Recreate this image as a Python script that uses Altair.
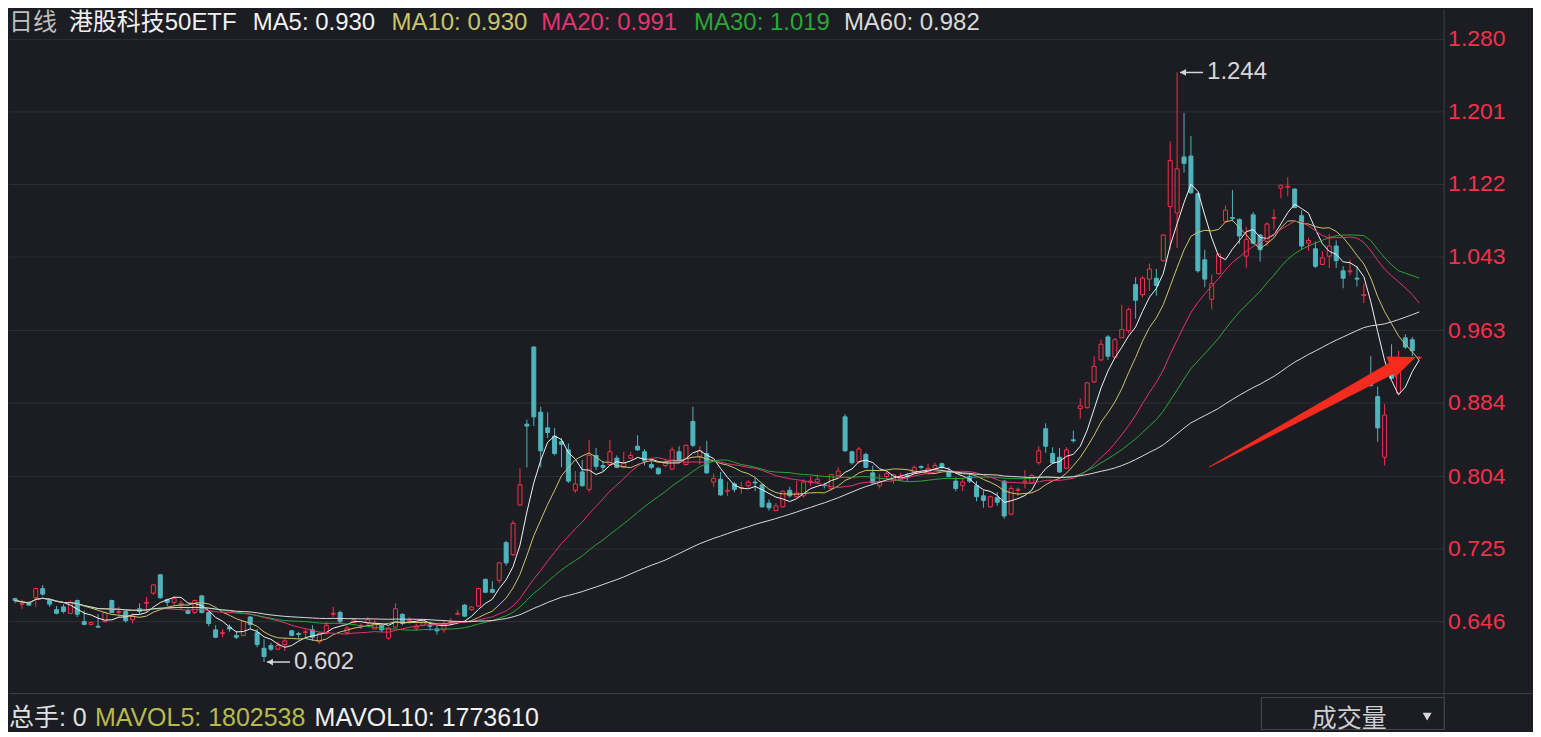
import altair as alt
import pandas as pd

# ---------------- data ----------------
opens = [
    0.671, 0.665, 0.667, 0.672, 0.682, 0.669, 0.659, 0.662, 0.655, 0.669,
    0.646, 0.643, 0.641, 0.646, 0.669, 0.656, 0.657, 0.648, 0.660, 0.666,
    0.677, 0.697, 0.670, 0.667, 0.664, 0.658, 0.656, 0.674, 0.656, 0.637,
    0.633, 0.640, 0.631, 0.631, 0.651, 0.634, 0.617, 0.620, 0.616, 0.621,
    0.636, 0.633, 0.634, 0.637, 0.624, 0.633, 0.654, 0.656, 0.634, 0.645,
    0.641, 0.645, 0.638, 0.642, 0.628, 0.640, 0.654, 0.647, 0.639, 0.642,
    0.642, 0.638, 0.637, 0.645, 0.654, 0.664, 0.659, 0.663, 0.692, 0.681,
    0.691, 0.732, 0.719, 0.773, 0.861, 0.945, 0.874, 0.857, 0.848, 0.842,
    0.833, 0.789, 0.809, 0.790, 0.827, 0.816, 0.817, 0.824, 0.814, 0.824,
    0.837, 0.831, 0.817, 0.813, 0.816, 0.812, 0.831, 0.817, 0.864, 0.826,
    0.829, 0.798, 0.801, 0.788, 0.796, 0.791, 0.794, 0.798, 0.795, 0.775,
    0.767, 0.771, 0.789, 0.782, 0.783, 0.798, 0.798, 0.795, 0.791, 0.805,
    0.869, 0.831, 0.820, 0.828, 0.808, 0.794, 0.804, 0.800, 0.800, 0.805,
    0.808, 0.815, 0.808, 0.813, 0.818, 0.809, 0.799, 0.794, 0.804, 0.794,
    0.783, 0.771, 0.781, 0.799, 0.763, 0.789, 0.798, 0.797, 0.819, 0.856,
    0.829, 0.825, 0.813, 0.844, 0.878, 0.879, 0.907, 0.931, 0.956, 0.934,
    0.955, 0.963, 1.013, 1.002, 1.019, 1.020, 1.039, 1.098, 1.091, 1.152,
    1.153, 1.112, 1.040, 0.997, 1.025, 1.082, 1.086, 1.084, 1.044, 1.089,
    1.067, 1.060, 1.085, 1.118, 1.119, 1.117, 1.088, 1.058, 1.052, 1.035,
    1.044, 1.055, 1.028, 1.027, 1.020, 1.001, 0.904, 0.891, 0.825, 0.919,
    0.895, 0.955, 0.953, 0.933,
]
highs = [
    0.672, 0.670, 0.668, 0.683, 0.686, 0.671, 0.663, 0.665, 0.669, 0.670,
    0.658, 0.646, 0.654, 0.657, 0.670, 0.662, 0.659, 0.655, 0.666, 0.673,
    0.687, 0.698, 0.671, 0.674, 0.669, 0.660, 0.670, 0.675, 0.658, 0.642,
    0.638, 0.643, 0.636, 0.647, 0.652, 0.638, 0.627, 0.623, 0.624, 0.628,
    0.637, 0.635, 0.638, 0.642, 0.635, 0.646, 0.662, 0.658, 0.642, 0.649,
    0.644, 0.651, 0.648, 0.643, 0.640, 0.666, 0.655, 0.651, 0.644, 0.647,
    0.646, 0.642, 0.647, 0.650, 0.659, 0.665, 0.663, 0.683, 0.693, 0.690,
    0.711, 0.734, 0.756, 0.813, 0.866, 0.946, 0.880, 0.874, 0.857, 0.846,
    0.840, 0.810, 0.822, 0.844, 0.835, 0.821, 0.844, 0.827, 0.831, 0.831,
    0.849, 0.834, 0.822, 0.814, 0.823, 0.836, 0.837, 0.839, 0.880, 0.837,
    0.843, 0.807, 0.809, 0.798, 0.798, 0.798, 0.800, 0.803, 0.796, 0.779,
    0.775, 0.789, 0.793, 0.799, 0.801, 0.804, 0.806, 0.797, 0.806, 0.814,
    0.872, 0.832, 0.836, 0.830, 0.816, 0.807, 0.809, 0.807, 0.808, 0.808,
    0.816, 0.816, 0.818, 0.819, 0.819, 0.814, 0.803, 0.802, 0.808, 0.799,
    0.789, 0.783, 0.787, 0.800, 0.794, 0.792, 0.811, 0.807, 0.837, 0.862,
    0.836, 0.835, 0.836, 0.854, 0.889, 0.907, 0.935, 0.953, 0.958, 0.955,
    0.991, 0.988, 1.021, 1.022, 1.036, 1.030, 1.068, 1.169, 1.244, 1.200,
    1.175, 1.113, 1.051, 1.024, 1.047, 1.099, 1.116, 1.085, 1.076, 1.092,
    1.068, 1.081, 1.095, 1.122, 1.130, 1.118, 1.094, 1.064, 1.060, 1.049,
    1.068, 1.061, 1.033, 1.040, 1.033, 1.014, 0.935, 0.902, 0.883, 0.948,
    0.941, 0.959, 0.956, 0.935,
]
lows = [
    0.666, 0.660, 0.663, 0.662, 0.674, 0.662, 0.654, 0.655, 0.654, 0.651,
    0.642, 0.642, 0.639, 0.645, 0.655, 0.651, 0.645, 0.644, 0.654, 0.656,
    0.675, 0.671, 0.663, 0.663, 0.659, 0.654, 0.654, 0.655, 0.641, 0.628,
    0.629, 0.635, 0.627, 0.630, 0.638, 0.618, 0.602, 0.614, 0.615, 0.614,
    0.630, 0.627, 0.628, 0.625, 0.622, 0.632, 0.651, 0.644, 0.632, 0.644,
    0.638, 0.642, 0.638, 0.635, 0.626, 0.639, 0.642, 0.644, 0.636, 0.641,
    0.636, 0.632, 0.634, 0.642, 0.653, 0.651, 0.658, 0.662, 0.677, 0.677,
    0.688, 0.707, 0.717, 0.772, 0.814, 0.859, 0.814, 0.846, 0.827, 0.814,
    0.797, 0.786, 0.793, 0.787, 0.811, 0.810, 0.816, 0.813, 0.813, 0.823,
    0.832, 0.816, 0.812, 0.806, 0.814, 0.811, 0.819, 0.816, 0.836, 0.817,
    0.807, 0.793, 0.783, 0.783, 0.787, 0.785, 0.791, 0.788, 0.770, 0.767,
    0.766, 0.770, 0.781, 0.781, 0.781, 0.794, 0.796, 0.791, 0.789, 0.804,
    0.831, 0.817, 0.818, 0.813, 0.796, 0.791, 0.802, 0.796, 0.799, 0.799,
    0.807, 0.812, 0.806, 0.812, 0.812, 0.803, 0.788, 0.788, 0.797, 0.777,
    0.770, 0.770, 0.772, 0.758, 0.762, 0.783, 0.791, 0.796, 0.817, 0.830,
    0.818, 0.808, 0.812, 0.841, 0.867, 0.878, 0.906, 0.930, 0.931, 0.933,
    0.955, 0.960, 0.976, 0.999, 1.006, 1.001, 1.038, 1.051, 1.053, 1.135,
    1.112, 1.026, 1.010, 0.986, 1.024, 1.080, 1.082, 1.057, 1.031, 1.057,
    1.038, 1.055, 1.073, 1.107, 1.109, 1.096, 1.051, 1.050, 1.031, 1.034,
    1.031, 1.031, 1.009, 1.023, 1.011, 0.993, 0.902, 0.842, 0.816, 0.910,
    0.894, 0.943, 0.935, 0.932,
]
closes = [
    0.669, 0.666, 0.664, 0.682, 0.676, 0.665, 0.655, 0.657, 0.667, 0.654,
    0.643, 0.645, 0.640, 0.656, 0.656, 0.657, 0.647, 0.652, 0.657, 0.667,
    0.686, 0.672, 0.667, 0.671, 0.666, 0.655, 0.669, 0.656, 0.644, 0.629,
    0.634, 0.638, 0.629, 0.646, 0.643, 0.621, 0.608, 0.616, 0.620, 0.625,
    0.631, 0.632, 0.635, 0.629, 0.633, 0.642, 0.655, 0.646, 0.639, 0.648,
    0.642, 0.648, 0.644, 0.637, 0.639, 0.660, 0.644, 0.648, 0.641, 0.646,
    0.641, 0.636, 0.644, 0.646, 0.655, 0.652, 0.662, 0.682, 0.678, 0.678,
    0.710, 0.710, 0.753, 0.795, 0.859, 0.869, 0.832, 0.852, 0.829, 0.839,
    0.799, 0.796, 0.794, 0.827, 0.815, 0.814, 0.831, 0.814, 0.819, 0.827,
    0.833, 0.821, 0.814, 0.807, 0.819, 0.833, 0.821, 0.838, 0.838, 0.832,
    0.808, 0.802, 0.784, 0.789, 0.790, 0.792, 0.798, 0.797, 0.771, 0.770,
    0.772, 0.788, 0.783, 0.786, 0.798, 0.799, 0.801, 0.794, 0.806, 0.810,
    0.832, 0.819, 0.834, 0.814, 0.797, 0.798, 0.807, 0.806, 0.804, 0.804,
    0.814, 0.814, 0.813, 0.816, 0.814, 0.804, 0.791, 0.798, 0.799, 0.782,
    0.778, 0.782, 0.776, 0.761, 0.791, 0.790, 0.799, 0.805, 0.832, 0.837,
    0.819, 0.809, 0.833, 0.843, 0.881, 0.906, 0.924, 0.948, 0.935, 0.953,
    0.964, 0.986, 0.996, 1.020, 1.030, 1.012, 1.067, 1.148, 1.139, 1.145,
    1.113, 1.028, 1.019, 1.014, 1.046, 1.094, 1.085, 1.066, 1.062, 1.058,
    1.051, 1.079, 1.086, 1.121, 1.120, 1.097, 1.055, 1.061, 1.033, 1.042,
    1.055, 1.039, 1.020, 1.028, 1.019, 1.002, 0.903, 0.857, 0.871, 0.911,
    0.923, 0.945, 0.941, 0.934,
]
price_ticks = [1.280, 1.201, 1.122, 1.043, 0.963, 0.884, 0.804, 0.725, 0.646]
ma_names = ["MA5", "MA10", "MA20", "MA30", "MA60"]
ma_windows = [5, 10, 20, 30, 60]
header_title = ["日线", "港股科技50ETF"]
header_ma = ["MA5: 0.930", "MA10: 0.930", "MA20: 0.991", "MA30: 1.019", "MA60: 0.982"]
volume_texts = ["总手: 0", "MAVOL5: 1802538", "MAVOL10: 1773610"]
volume_menu = "成交量"

# ---------------- style ----------------
BG = "#1b1d22"
UP = "#f5304a"
DOWN = "#4fb4be"
GRID = "#2e3036"
AXIS = "#3e4148"
LBL = "#d6d6d6"
ARROW = "#f52b1f"
FONT = "Liberation Sans, Noto Sans CJK SC, sans-serif"
MA_COLORS = ["#f2f2f2", "#c9c56d", "#e2346f", "#2aa735", "#d9d9d9"]
M = 8  # page margin: reference pixel -> plot pixel

W, H = 1437, 721
xs = alt.Scale(domain=[-0.15, 205.88], nice=False, zero=False)
ys = alt.Scale(domain=[0.5285, 1.3126], nice=False, zero=False)

n = len(closes)
df = pd.DataFrame({"i": list(range(n)), "open": opens, "high": highs,
                   "low": lows, "close": closes})
is_up = "datum.close >= datum.open"

X = alt.X("i:Q", scale=xs, axis=None)

# price axis drawn as marks: grid, domain line, labels
ticks_df = pd.DataFrame({"t": price_ticks})
grid = alt.Chart(ticks_df).mark_rule(color=GRID, strokeWidth=1).encode(
    x=alt.value(0), x2=alt.value(W), y=alt.Y("t:Q", scale=ys, axis=None))
tick_labels = alt.Chart(ticks_df).mark_text(
    align="left", baseline="middle", fontSize=23, font=FONT, color=UP).encode(
    x=alt.value(W + 4), y=alt.Y("t:Q", scale=ys, axis=None),
    text=alt.Text("t:Q", format=".3f"))
domain_line = alt.Chart(alt.Data(values=[{"k": 0}])).mark_rule(color=AXIS, strokeWidth=1).encode(
    x=alt.value(W), y=alt.value(0), y2=alt.value(H))

wicks = alt.Chart(df).mark_rule(strokeWidth=1).encode(
    x=X,
    y=alt.Y("low:Q", scale=ys, axis=None),
    y2="high:Q",
    color=alt.condition(is_up, alt.value(UP), alt.value(DOWN)),
)

bodies = alt.Chart(df).mark_bar(width=4, strokeWidth=1).encode(
    x=X,
    y=alt.Y("open:Q", scale=ys, axis=None),
    y2="close:Q",
    fill=alt.condition(is_up, alt.value(BG), alt.value(DOWN)),
    stroke=alt.condition(is_up, alt.value(UP), alt.value(DOWN)),
)

ma = alt.Chart(df)
for name, win in zip(ma_names, ma_windows):
    ma = ma.transform_window(**{name: "mean(close)"}, frame=[-(win - 1), 0],
                             sort=[alt.SortField("i", order="ascending")])
ma = ma.transform_fold(ma_names, as_=["ma", "v"]).mark_line(strokeWidth=1).encode(
    x=X,
    y=alt.Y("v:Q", scale=ys, axis=None),
    color=alt.Color("ma:N", scale=alt.Scale(domain=ma_names, range=MA_COLORS), legend=None),
    detail="ma:N",
)

# extreme labels (highest high, lowest low)
hi_i = max(range(n), key=lambda k: highs[k])
lo_i = min(range(n), key=lambda k: lows[k])
ext = pd.DataFrame({"i": [hi_i, lo_i], "p": [highs[hi_i], lows[lo_i]]})
ext_base = alt.Chart(ext).encode(x=X, y=alt.Y("p:Q", scale=ys, axis=None))
ext_line = alt.Chart(ext).mark_rule(color=LBL, strokeWidth=1.5, xOffset=3, x2Offset=26).encode(
    x=X, x2=alt.X2("i"), y=alt.Y("p:Q", scale=ys, axis=None))
ext_head = ext_base.mark_point(shape="triangle-left", filled=True, size=45,
                               xOffset=6, color=LBL, opacity=1)
ext_text = ext_base.mark_text(dx=30, align="left", baseline="middle", fontSize=24,
                              font=FONT, color=LBL).encode(text=alt.Text("p:Q", format=".3f"))

one = alt.Data(values=[{"k": 0}])


def txt(s, x, y, color, size=25, align="left", baseline="alphabetic"):
    return alt.Chart(one).mark_text(text=s, align=align, baseline=baseline, fontSize=size,
                                    font=FONT, color=color).encode(
        x=alt.value(x - M), y=alt.value(y - M))


header = [
    txt(header_title[0], 8, 29, "#bfbfbf", size=24),
    txt(header_title[1], 68, 29, "#f0f0f0", size=24),
]
for s, x0, col in zip(header_ma, [252, 391, 541, 694, 844], MA_COLORS):
    header.append(txt(s, x0, 29, col, size=24))

footer = [
    txt(volume_texts[0], 8, 725, "#e0e0e0"),
    txt(volume_texts[1], 94, 725, "#b8bb4c"),
    txt(volume_texts[2], 314, 725, "#f0f0f0"),
    txt(volume_menu, 1350, 726, "#cfcfcf", align="center"),
]

sep = alt.Chart(one).mark_rule(color=AXIS, strokeWidth=1).encode(
    x=alt.value(0), x2=alt.value(1533 - M), y=alt.value(693 - M))
box = alt.Chart(one).mark_rect(fill=BG, stroke="#45484f", strokeWidth=1).encode(
    x=alt.value(1262 - M), x2=alt.value(1445 - M), y=alt.value(697 - M), y2=alt.value(H))
tri = alt.Chart(one).mark_point(shape="triangle-down", filled=True, size=80,
                                color="#d8d8d8", opacity=1).encode(
    x=alt.value(1428 - M), y=alt.value(716 - M))

# big red annotation arrow (pixel space)
arrow_df = pd.DataFrame({"ax": [1210 - M, 1393 - M], "ay": [466 - M, 367 - M], "w": [1, 12]})
shaft = alt.Chart(arrow_df).mark_trail(color=ARROW).encode(
    x=alt.X("ax:Q", scale=None, axis=None),
    y=alt.Y("ay:Q", scale=None, axis=None),
    size=alt.Size("w:Q", scale=None, legend=None),
)
head = alt.Chart(one).mark_point(shape="M-1,-0.85L1,0L-1,0.85Z", filled=True, size=729,
                                 angle=338, color=ARROW, opacity=1).encode(
    x=alt.value(1404 - M), y=alt.value(361 - M))

chart = alt.layer(
    grid, domain_line, tick_labels,
    wicks, bodies, ma, ext_line, ext_head, ext_text,
    sep, box, tri, *header, *footer, shaft, head,
).properties(
    width=W, height=H, padding=0, background=BG,
).configure_view(stroke=None)

chart.save("out.html", embed_options={"renderer": "svg", "actions": False})
